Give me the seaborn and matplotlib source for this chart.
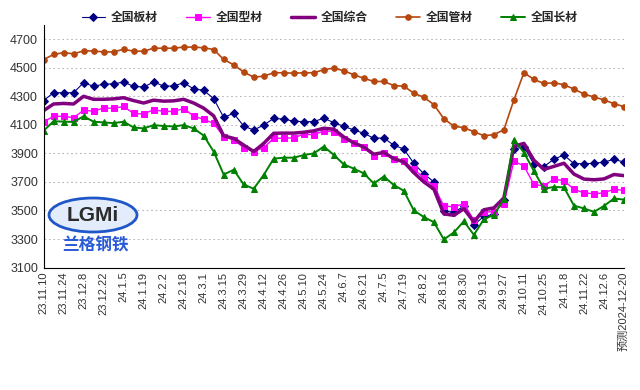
import numpy as np
import pandas as pd
import matplotlib
matplotlib.use('Agg')
import matplotlib.pyplot as plt
import seaborn as sns
from matplotlib.patches import Ellipse

# 横轴标签 (每两周一个)
tick_labels = ['23.11.10', '23.11.24', '23.12.8', '23.12.22', '24.1.5', '24.1.19',
               '24.2.2', '24.2.18', '24.3.1', '24.3.15', '24.3.29', '24.4.12',
               '24.4.26', '24.5.10', '24.5.24', '24.6.7', '24.6.21', '24.7.5',
               '24.7.19', '24.8.2', '24.8.16', '24.8.30', '24.9.13', '24.9.27',
               '24.10.11', '24.10.25', '24.11.8', '24.11.22', '24.12.6', '预测2024-12-20']

series_names = ['全国板材', '全国型材', '全国综合', '全国管材', '全国长材']

banc = [4270, 4325, 4325, 4325, 4395, 4370, 4385, 4387, 4400, 4370,
        4365, 4400, 4372, 4372, 4395, 4352, 4342, 4284, 4152, 4181,
        4091, 4064, 4098, 4145, 4140, 4126, 4122, 4123, 4146, 4116,
        4090, 4064, 4041, 4006, 4008, 3957, 3931, 3830, 3757, 3700,
        3496, 3487, 3530, 3400, 3458, 3474, 3570, 3929, 3948, 3823,
        3807, 3860, 3888, 3828, 3828, 3830, 3839, 3858, 3839]

xingc = [4120, 4160, 4160, 4150, 4202, 4196, 4218, 4216, 4229, 4180,
         4176, 4206, 4194, 4194, 4214, 4162, 4138, 4111, 4017, 3995,
         3941, 3913, 3941, 4005, 4007, 4008, 4035, 4030, 4058, 4051,
         4002, 3973, 3943, 3884, 3906, 3858, 3845, 3790, 3728, 3668,
         3532, 3525, 3548, 3432, 3488, 3492, 3548, 3846, 3812, 3682,
         3672, 3720, 3708, 3649, 3623, 3617, 3623, 3649, 3640]

zonghe = [4199, 4246, 4250, 4246, 4300, 4279, 4279, 4282, 4290, 4270,
          4253, 4273, 4266, 4268, 4279, 4253, 4217, 4163, 4023, 4005,
          3958, 3913, 3970, 4041, 4042, 4042, 4048, 4058, 4076, 4070,
          4015, 3974, 3944, 3894, 3907, 3863, 3840, 3765, 3700, 3650,
          3476, 3466, 3512, 3420, 3505, 3518, 3588, 3950, 3970, 3852,
          3788, 3809, 3831, 3755, 3720, 3715, 3721, 3752, 3744]

guanc = [4557, 4593, 4606, 4598, 4618, 4618, 4611, 4611, 4630, 4616,
         4616, 4637, 4637, 4637, 4645, 4645, 4640, 4628, 4558, 4521,
         4470, 4434, 4441, 4465, 4465, 4462, 4465, 4465, 4486, 4498,
         4479, 4451, 4427, 4404, 4404, 4375, 4371, 4322, 4293, 4242,
         4143, 4091, 4080, 4052, 4024, 4031, 4066, 4275, 4466, 4418,
         4390, 4395, 4381, 4351, 4316, 4295, 4275, 4248, 4228]

changc = [4058, 4125, 4123, 4120, 4160, 4122, 4117, 4112, 4122, 4082,
          4075, 4098, 4092, 4089, 4098, 4075, 4025, 3913, 3752, 3785,
          3682, 3652, 3749, 3863, 3870, 3870, 3888, 3900, 3948, 3890,
          3823, 3793, 3760, 3689, 3738, 3678, 3638, 3500, 3454, 3418,
          3297, 3346, 3424, 3329, 3438, 3470, 3578, 3997, 3906, 3776,
          3652, 3665, 3662, 3534, 3514, 3490, 3532, 3584, 3576]

sns.set_style('white')
plt.rcParams['font.family'] = ['Liberation Sans', 'Noto Sans CJK SC']

week = np.arange(len(banc))
df = pd.DataFrame({'week': week, '全国板材': banc, '全国型材': xingc,
                   '全国综合': zonghe, '全国管材': guanc, '全国长材': changc})

fig = plt.figure(figsize=(6.4, 3.9), dpi=100)
ax = fig.add_axes([0.068, 0.314, 0.907, 0.622])

styles = {
    '全国板材': dict(color='#000080', marker='D', markersize=3.8, linewidth=0.8),
    '全国型材': dict(color='#FF00FF', marker='s', markersize=4.5, linewidth=1.0),
    '全国综合': dict(color='#800080', marker=None, linewidth=2.5),
    '全国管材': dict(color='#B5470F', marker='o', markersize=4.0, linewidth=1.2),
    '全国长材': dict(color='#008000', marker='^', markersize=5.0, linewidth=1.4),
}

for name in series_names:
    st = styles[name]
    sns.lineplot(data=df, x='week', y=name, ax=ax, label=name,
                 color=st['color'], marker=st['marker'],
                 markersize=st.get('markersize', 0), linewidth=st['linewidth'],
                 markeredgecolor=st['color'], solid_joinstyle='round')

ax.set_xlim(0, len(banc) - 1)
ax.set_ylim(3100, 4800)
ax.set_yticks(range(3100, 4701, 200))
ax.set_xticks(range(0, len(banc), 2))
ax.set_xticklabels(tick_labels, rotation=90, fontsize=8, color='#333333')
ax.tick_params(axis='y', labelsize=9, colors='#333333', length=0, pad=4)
ax.tick_params(axis='x', direction='in', length=3, color='black', pad=3)
ax.set_xlabel('')
ax.set_ylabel('')

for y in range(3300, 4701, 200):
    ax.axhline(y, color='#b8b8b8', linestyle=(0, (1.5, 2.5)), linewidth=0.8, zorder=0)

for side in ['top', 'right']:
    ax.spines[side].set_visible(False)
for side in ['left', 'bottom']:
    ax.spines[side].set_color('black')
    ax.spines[side].set_linewidth(0.8)

ax.get_legend().remove()
handles, labels = ax.get_legend_handles_labels()
fig.legend(handles, labels, loc='center', ncol=5, bbox_to_anchor=(0.515, 0.955),
           frameon=False, handlelength=2.0, handletextpad=0.5,
           columnspacing=2.4, prop={'family': ['Noto Sans CJK SC'], 'weight': 'bold', 'size': 8.5})

# 兰格钢铁 水印
logo = Ellipse((93 / 640, 1 - 215 / 390), 88 / 640, 34 / 390, transform=fig.transFigure,
               facecolor='#e3ecfa', edgecolor='#1f56c8', linewidth=2.0, zorder=5)
fig.add_artist(logo)
fig.text(93 / 640, 1 - 215 / 390, 'LGMi', ha='center', va='center', fontsize=15,
         fontweight='bold', color='#2b2b2b', family=['Liberation Sans'], zorder=6)
fig.text(95 / 640, 1 - 245 / 390, '兰格钢铁', ha='center', va='center', fontsize=12,
         fontweight='bold', color='#2a5bd7', family=['Noto Sans CJK SC'], zorder=6)

fig.savefig('out.png', dpi=100)
